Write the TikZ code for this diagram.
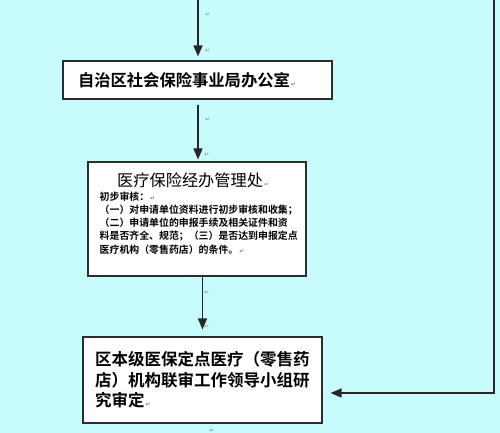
\documentclass[tikz,border=0pt]{standalone}
\usepackage{fontspec}
\usetikzlibrary{arrows.meta,positioning,calc}
\newfontfamily\cjk{Noto Sans CJK SC}[BoldFont={Noto Sans CJK SC Bold}]
\newfontfamily\markfont{DejaVu Sans}
\definecolor{bgcyan}{RGB}{200,252,252}
\definecolor{linegray}{RGB}{45,45,45}
\newcommand{\retmark}{{\markfont\fontsize{6}{6}\selectfont\color{gray}\,↵}}
\tikzset{
  box/.style = {draw = linegray, fill = white, line width = 1.1pt, shape = rectangle},
  flow/.style = {draw = black!85, line width = 1.5pt, -{Triangle[width=9pt,length=11pt]}},
  pmark/.style = {inner sep = 0pt, font = \markfont\fontsize{6}{6}\selectfont, text = gray}
}

\begin{document}
\begin{tikzpicture}[x = 1pt, y = -1pt]
\fill[bgcyan] (0,0) rectangle (500,433);
\useasboundingbox (0,0) rectangle (500,433);

\node[box, minimum height = 38pt, inner xsep = 15pt, text width = 239pt, align = left, font = \cjk\bfseries\fontsize{16.3}{20}\selectfont] (zzq) at (197.5,80) {自治区社会保险事业局办公室\retmark};

\node[box, minimum width = 218pt, minimum height = 114pt] (ylb) at (197,219) {};
\node[anchor = west, inner sep = 0pt, font = \cjk\fontsize{16.2}{20}\selectfont] (ylbt) at (117,180) {医疗保险经办管理处\retmark};
\node[anchor = north west, inner sep = 0pt, align = left, font = \cjk\bfseries\fontsize{9.9}{13.2}\selectfont] (ylbs) at (99.5,191.5) {初步审核：\retmark\\
（一）对申请单位资料进行初步审核和收集；\\
（二）申请单位的申报手续及相关证件和资\\
料是否齐全、规范；（三）是否达到申报定点\\
医疗机构（零售药店）的条件。\retmark};

\node[box, minimum height = 86pt, inner xsep = 12pt, text width = 215pt, align = left, font = \cjk\bfseries\fontsize{16.5}{20.5}\selectfont] (ldxz) at (202.5,380) {区本级医保定点医疗（零售药\\
店）机构联审工作领导小组研\\
究审定\retmark};

% connectors
\coordinate (top) at (198,0);
\coordinate (back) at (494,0);
\draw[flow] (top) -- ([yshift = 4pt]zzq.north -| top);
\draw[flow, shorten <= 5pt, shorten >= 2pt] (zzq.south -| top) -- (ylb.north -| top);
\draw[flow, shorten >= 7pt] (ylb.south -| ldxz.north) -- (ldxz.north);
\draw[flow] (back) |- ([xshift = 8pt, yshift = -13pt]ldxz.east);

% paragraph marks
\foreach \mx/\my [count = \i] in {208/15, 208/51, 208/120, 207/155, 207/293, 207/327, 212/431}
  \node[pmark] (pm\i) at (\mx,\my) {↵};
\end{tikzpicture}
\end{document}
